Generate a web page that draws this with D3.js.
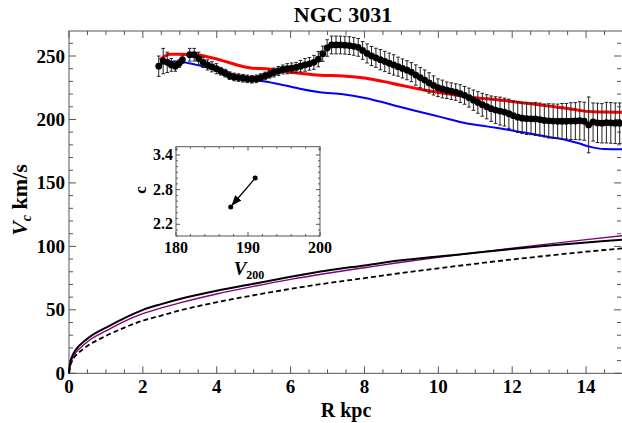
<!DOCTYPE html>
<html><head><meta charset="utf-8">
<script src="https://cdn.jsdelivr.net/npm/d3@7"></script>
<style>body{margin:0;background:#fff}svg{display:block}text{font-family:"Liberation Serif","Times New Roman",serif;font-weight:bold}</style>
</head><body><svg id="c" width="622" height="423"></svg>
<script>
// ---------- data ----------
const title = "NGC 3031";
const xTicks = [0, 2, 4, 6, 8, 10, 12, 14];
const yTicks = [0, 50, 100, 150, 200, 250];
// observed rotation curve
const obsR = [2.43,2.55,2.66,2.77,2.88,2.98,3.07,3.27,3.39,3.51,3.63,3.75,3.87,3.99,4.11,4.23,4.35,4.47,4.59,4.71,4.83,4.95,5.07,5.19,5.31,5.43,5.55,5.67,5.79,5.91,6.03,6.15,6.27,6.39,6.51,6.63,6.75,6.87,6.99,7.11,7.23,7.35,7.47,7.59,7.71,7.83,7.95,8.07,8.19,8.31,8.43,8.55,8.67,8.79,8.91,9.03,9.15,9.27,9.39,9.51,9.63,9.75,9.87,9.99,10.11,10.23,10.35,10.47,10.59,10.71,10.83,10.95,11.07,11.19,11.31,11.43,11.55,11.67,11.79,11.91,12.03,12.15,12.27,12.39,12.51,12.63,12.75,12.87,12.99,13.11,13.23,13.35,13.47,13.59,13.71,13.83,13.95,14.07,14.19,14.31,14.43,14.55,14.67,14.79,14.91];
const obsV = [242,246,245,243,242,244,247,251,251,248,245,243,241.5,240,238,236.5,234.5,233.5,233,232.5,232,231.7,232,233,234.3,235.6,237,238.2,239.4,240,240.5,241,242,243,243.8,245,247.5,251.8,256.3,258.7,258.7,258.7,258.5,258.2,257.6,256.8,254.4,252,250,248.6,247.1,245.7,244.3,243,241.6,240.2,238.8,237.3,235,233,231,228.8,226.8,225,224,223,222.3,221.6,220.4,219,217.2,215.2,213.4,211.6,210,208.5,207.4,206.6,205.8,204.5,203,201.8,201,200.6,200.5,200.4,199.9,199.2,198.9,198.7,198.6,198.6,198.6,198.7,198.8,199,198.6,195.7,198,197.3,197,197.5,197.3,197,197];
const obsErr = [8,10,8,5,4,3,3,5,5,5,4,4,4,4,3,3,3,3,3,3,3,3,3,3,3,3,3.5,3.5,3.5,4,4,4,4.5,5,5,5.5,6,6,6.5,7,7,7,7,7,7,7,7,7.5,7.5,7.5,8,8,8,8,7.5,7.5,7.5,7.5,8,8,8,8,7.5,7,7,6.5,6.5,6.5,7,7,7.5,8,8.5,9,9.5,10,10.5,11,11,11.5,11.5,12,12,12.5,12.5,13,13,13,13.5,13.5,13.5,14,14,14.5,14.5,15,15,22,15,15.5,15.5,16,16,16,16];
// model curves (red = total fit, blue = alternative)
const redR = [2.46,2.6,2.73,3.0,3.45,3.8,4.2,4.6,4.98,5.34,5.8,6.25,6.79,7.42,8.05,8.5,8.95,9.4,9.85,10.3,10.75,11.2,11.65,12.1,12.56,13.0,13.46,13.8,14.09,14.5,15];
const redV = [247,250,251.3,251.4,251,249,246,242.5,240.3,240,238,236.4,234.8,234.3,232.5,230,227.2,224.5,222,220,218,216.6,215.4,213.8,212.2,210.5,208.8,207.3,206.2,205.8,205.7];
const blueR = [2.46,2.73,3.09,3.54,3.99,4.44,4.98,5.34,5.7,6.07,6.25,6.79,7.42,8.05,8.5,8.95,9.4,9.85,10.3,10.75,11.2,11.65,12.1,12.56,13.0,13.46,13.8,14.09,14.5,15];
const blueV = [243,245.6,245,242.4,239,235,231,229.8,227.8,225.4,224.2,221.5,219.9,216.7,213.5,210,206.7,203.5,200.2,197,195,193,190.8,188.6,186.2,183.8,181.2,178.6,176.7,176.5];
// lower components
const compR = [0,0.03,0.08,0.15,0.25,0.4,0.6,0.8,1,1.5,2,2.5,3,4,5,6,7,8,9,10,11,12,13,14,15];
const compBlack = [0,8,13,17,21,25,29.5,33,36,43.5,50,54.5,58.5,65,70.5,76,81,85,89,92,95,98,100.7,103,105.3];
const compPurple = [0,6.5,11,15,18.5,22.5,27,30.5,33.5,41,47,51.5,55.5,62.5,68.5,74,78.8,83.2,87.5,91.3,95,98.6,102,105.3,108.4];
const compDashed = [0,5.5,9.5,13,16,19.5,23.5,26.5,29.5,36,41.5,45.5,49.5,56,61.5,66.5,71,75,79,82.7,86.3,89.7,92.8,95.8,98.5];
// inset: concentration vs V200
const insetXTicks = [180, 190, 200];
const insetYTicks = [2.2, 2.8, 3.4];
const insetV200 = [191, 187.6];
const insetC = [3.0, 2.5];

// ---------- drawing ----------
const svg = d3.select("#c");
const x = d3.scaleLinear().domain([0, 15]).range([69, 623]);
const y = d3.scaleLinear().domain([0, 269.7]).range([373.3, 31]);
const frameCol = "#555";

// frame
svg.append("rect").attr("x", 69).attr("y", 31).attr("width", 623 - 69).attr("height", 373.3 - 31)
  .attr("fill", "none").attr("stroke", frameCol).attr("stroke-width", 1);

// ticks (inward, on all four sides)
const xMinor = d3.range(0, 15.01, 0.5);
const yMinor = d3.range(0, 270, 10);
const tickG = svg.append("g").attr("stroke", frameCol).attr("stroke-width", 1);
xMinor.forEach(v => {
  const major = xTicks.includes(v);
  const L = major ? 7 : 4;
  tickG.append("line").attr("x1", x(v)).attr("x2", x(v)).attr("y1", y(0)).attr("y2", y(0) - L);
  tickG.append("line").attr("x1", x(v)).attr("x2", x(v)).attr("y1", 31).attr("y2", 31 + L);
});
yMinor.forEach(v => {
  const major = yTicks.includes(v);
  const L = major ? 7 : 4;
  tickG.append("line").attr("x1", 69).attr("x2", 69 + L).attr("y1", y(v)).attr("y2", y(v));
  tickG.append("line").attr("x1", 621).attr("x2", 621 - L).attr("y1", y(v)).attr("y2", y(v));
});

// tick labels
svg.selectAll(".xl").data(xTicks).enter().append("text")
  .attr("x", d => x(d)).attr("y", 393).attr("text-anchor", "middle").attr("font-size", 19).text(d => d);
svg.selectAll(".yl").data(yTicks).enter().append("text")
  .attr("x", 65).attr("y", d => y(d) + 6.5).attr("text-anchor", "end").attr("font-size", 19).text(d => d);

// axis labels
svg.append("text").attr("x", 346).attr("y", 417).attr("text-anchor", "middle").attr("font-size", 20).text("R kpc");
const yl = svg.append("text").attr("transform", "translate(27,200) rotate(-90)").attr("text-anchor", "middle").attr("font-size", 22);
yl.append("tspan").attr("font-style", "italic").text("V");
yl.append("tspan").attr("font-style", "italic").attr("font-size", 14).attr("dy", 4).text("c");
yl.append("tspan").attr("dy", -4).text(" km/s");

// title
svg.append("text").attr("x", 343).attr("y", 22).attr("text-anchor", "middle").attr("font-size", 22).text(title);

const line = d3.line().x(d => x(d[0])).y(d => y(d[1])).curve(d3.curveMonotoneX);
const zip = (a, b) => a.map((v, i) => [v, b[i]]);

// lower component curves
svg.append("path").attr("d", line(zip(compR, compDashed))).attr("fill", "none").attr("stroke", "#000").attr("stroke-width", 1.8).attr("stroke-dasharray", "5,3");
svg.append("path").attr("d", line(zip(compR, compPurple))).attr("fill", "none").attr("stroke", "#800080").attr("stroke-width", 1.4);
svg.append("path").attr("d", line(zip(compR, compBlack))).attr("fill", "none").attr("stroke", "#000").attr("stroke-width", 2);

// model fits
svg.append("path").attr("d", line(zip(blueR, blueV))).attr("fill", "none").attr("stroke", "#0000ff").attr("stroke-width", 2);
svg.append("path").attr("d", line(zip(redR, redV))).attr("fill", "none").attr("stroke", "#ff0000").attr("stroke-width", 3);

// error bars
const eb = svg.append("g").attr("stroke", "#222").attr("stroke-width", 1);
obsR.forEach((r, i) => {
  const cx = x(r), y1 = y(obsV[i] - obsErr[i]), y2 = y(obsV[i] + obsErr[i]);
  eb.append("line").attr("x1", cx).attr("x2", cx).attr("y1", y1).attr("y2", y2);
  eb.append("line").attr("x1", cx - 1.8).attr("x2", cx + 1.8).attr("y1", y1).attr("y2", y1);
  eb.append("line").attr("x1", cx - 1.8).attr("x2", cx + 1.8).attr("y1", y2).attr("y2", y2);
});
svg.selectAll(".pt").data(obsR).enter().append("circle")
  .attr("cx", d => x(d)).attr("cy", (d, i) => y(obsV[i])).attr("r", 3.4).attr("fill", "#000");

// ---------- inset ----------
const ix = d3.scaleLinear().domain([180, 200]).range([176, 320]);
const iy = d3.scaleLinear().domain([1.997, 3.544]).range([236, 146.7]);
svg.append("rect").attr("x", 176).attr("y", 146.7).attr("width", 144).attr("height", 89.3)
  .attr("fill", "#fff").attr("stroke", frameCol).attr("stroke-width", 1);
const itg = svg.append("g").attr("stroke", frameCol).attr("stroke-width", 1);
d3.range(180, 200.1, 2).forEach(v => {
  const L = insetXTicks.includes(v) ? 4 : 2;
  itg.append("line").attr("x1", ix(v)).attr("x2", ix(v)).attr("y1", 236).attr("y2", 236 - L);
  itg.append("line").attr("x1", ix(v)).attr("x2", ix(v)).attr("y1", 146.7).attr("y2", 146.7 + L);
});
d3.range(2.0, 3.55, 0.1).forEach(v => {
  const major = insetYTicks.some(t => Math.abs(t - v) < 1e-6);
  const L = major ? 4 : 2;
  itg.append("line").attr("x1", 176).attr("x2", 176 + L).attr("y1", iy(v)).attr("y2", iy(v));
  itg.append("line").attr("x1", 320).attr("x2", 320 - L).attr("y1", iy(v)).attr("y2", iy(v));
});
svg.selectAll(".ixl").data(insetXTicks).enter().append("text")
  .attr("x", d => ix(d)).attr("y", 253).attr("text-anchor", "middle").attr("font-size", 16).text(d => d);
svg.selectAll(".iyl").data(insetYTicks).enter().append("text")
  .attr("x", 173).attr("y", d => iy(d) + 5).attr("text-anchor", "end").attr("font-size", 16).text(d => d.toFixed(1));
svg.append("text").attr("transform", "translate(146,190) rotate(-90)").attr("text-anchor", "middle").attr("font-size", 17).text("c");
const vl = svg.append("text").attr("x", 249).attr("y", 275).attr("text-anchor", "middle").attr("font-size", 19);
vl.append("tspan").attr("font-style", "italic").text("V");
vl.append("tspan").attr("font-size", 12).attr("dy", 4).text("200");

// arrow
const defs = svg.append("defs");
defs.append("marker").attr("id", "ah").attr("viewBox", "0 0 10 10").attr("refX", 9).attr("refY", 5)
  .attr("markerWidth", 8).attr("markerHeight", 8).attr("orient", "auto")
  .append("path").attr("d", "M0,1 L10,5 L0,9 Z").attr("fill", "#000");
svg.append("line").attr("x1", ix(insetV200[0])).attr("y1", iy(insetC[0]))
  .attr("x2", ix(insetV200[1]) + 1.5).attr("y2", iy(insetC[1]) - 2)
  .attr("stroke", "#000").attr("stroke-width", 1.3).attr("marker-end", "url(#ah)");
svg.selectAll(".ip").data(insetV200).enter().append("circle")
  .attr("cx", d => ix(d)).attr("cy", (d, i) => iy(insetC[i])).attr("r", 2.5).attr("fill", "#000");
</script></body></html>
